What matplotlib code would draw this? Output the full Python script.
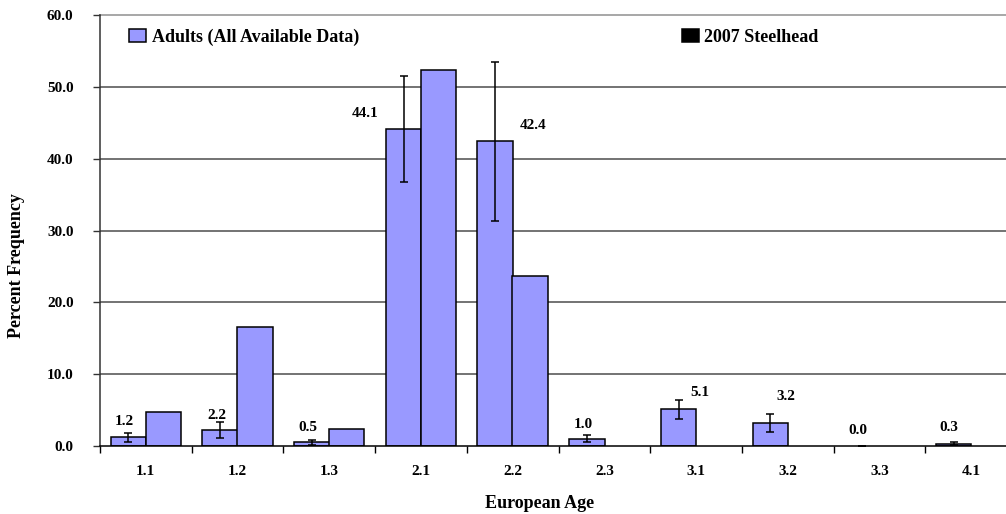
import matplotlib
matplotlib.use("Agg")
import matplotlib.pyplot as plt
import numpy as np
from matplotlib.patches import Patch

plt.rcParams['font.family'] = ['Liberation Serif', 'DejaVu Serif']
plt.rcParams['font.weight'] = 'bold'

# ---- data ----
ages = ["1.1", "1.2", "1.3", "2.1", "2.2", "2.3", "3.1", "3.2", "3.3", "4.1"]
adults = [1.2, 2.2, 0.5, 44.1, 42.4, 1.0, 5.1, 3.2, 0.0, 0.3]
adults_err = [0.6, 1.1, 0.4, 7.4, 11.1, 0.5, 1.35, 1.2, 0.0, 0.2]
steelhead_2007 = [4.7, 16.6, 2.3, 52.3, 23.7, 0.0, 0.0, 0.0, 0.0, 0.0]
series_names = ["Adults (All Available Data)", "2007 Steelhead"]
yticks = [0, 10, 20, 30, 40, 50, 60]

# label placement (layout only): horizontal offset in category units, height in data units
label_dx = [-0.04, -0.04, -0.04, -0.42, 0.41, -0.04, 0.23, 0.17, -0.04, -0.05]
label_y = [3.4, 4.3, 2.6, 46.3, 44.6, 3.06, 7.5, 6.9, 2.1, 2.55]

W, H = 1006, 514
fig = plt.figure(figsize=(W / 100, H / 100), dpi=100)
ax_l, ax_r, ax_t, ax_b = 100, 1017, 15, 446
ax = fig.add_axes([ax_l / W, 1 - ax_b / H, (ax_r - ax_l) / W, (ax_b - ax_t) / H])

bar_color = '#9999FF'
x = np.arange(len(ages))
bw = 0.387
off = 0.19

a = np.array(adults)
s = np.array(steelhead_2007)
ma = a > 0
ms = s > 0
ax.bar(x[ma] - off, a[ma], width=bw, color=bar_color, edgecolor='black', linewidth=1.1, zorder=3)
ax.bar(x[ms] + off, s[ms], width=bw, color=bar_color, edgecolor='black', linewidth=1.1, zorder=3)
ax.errorbar(x - off, adults, yerr=adults_err, fmt='none', ecolor='black',
            elinewidth=1.1, capsize=3, capthick=1.1, zorder=4)

for i, v in enumerate(adults):
    ax.text(x[i] - off + label_dx[i], label_y[i], f"{v:.1f}", ha='center', va='center',
            fontsize=11, fontweight='bold', zorder=5)

ax.set_xlim(-0.5, len(ages) - 0.5)
ax.set_ylim(0, 60)
ax.set_yticks(yticks)
ax.set_yticklabels([f"{t:.1f}" for t in yticks])
ax.set_xticks(x)
ax.set_xticklabels(ages)
ax.set_xticks(np.arange(-0.5, len(ages)), minor=True)

ax.tick_params(axis='x', which='major', length=0, pad=14, labelsize=11)
ax.tick_params(axis='x', which='minor', length=5, width=1, direction='out', color='black')
ax.tick_params(axis='y', which='major', length=5, width=1, direction='out', pad=14,
               labelsize=11, color='#333333')

for yv in yticks[1:-1]:
    ax.axhline(yv, color='#4d4d4d', linewidth=1.1, zorder=1)
ax.axhline(60, color='#a0a0a0', linewidth=1.3, zorder=1, clip_on=False)

for sp in ['top', 'right']:
    ax.spines[sp].set_visible(False)
ax.spines['left'].set_color('#333333')
ax.spines['left'].set_linewidth(1.1)
ax.spines['bottom'].set_color('black')
ax.spines['bottom'].set_linewidth(1.1)
ax.spines['bottom'].set_zorder(5)

ax.set_ylabel("Percent Frequency", fontsize=13, fontweight='bold', va='center')
ax.yaxis.set_label_coords((17 - ax_l) / (ax_r - ax_l), (ax_b - 266) / (ax_b - ax_t))
ax.set_xlabel("European Age", fontsize=13, fontweight='bold', va='center')
ax.xaxis.set_label_coords((540 - ax_l) / (ax_r - ax_l), (ax_b - 503) / (ax_b - ax_t))

# legends
h1 = Patch(facecolor=bar_color, edgecolor='black', linewidth=1.1)
h2 = Patch(facecolor='black', edgecolor='black', linewidth=1.1)
leg_prop = {'family': 'Liberation Serif', 'weight': 'bold', 'size': 13}
leg1 = ax.legend([h1], [series_names[0]], loc='center left',
                 bbox_to_anchor=(129 / W, 1 - 37 / H), bbox_transform=fig.transFigure,
                 frameon=False, borderpad=0, borderaxespad=0, handlelength=0.95,
                 handleheight=0.7, handletextpad=0.35, prop=leg_prop)
ax.add_artist(leg1)
ax.legend([h2], [series_names[1]], loc='center left',
          bbox_to_anchor=(682 / W, 1 - 37 / H), bbox_transform=fig.transFigure,
          frameon=False, borderpad=0, borderaxespad=0, handlelength=0.95,
          handleheight=0.7, handletextpad=0.25, prop=leg_prop)

fig.savefig("out.png", dpi=100)
